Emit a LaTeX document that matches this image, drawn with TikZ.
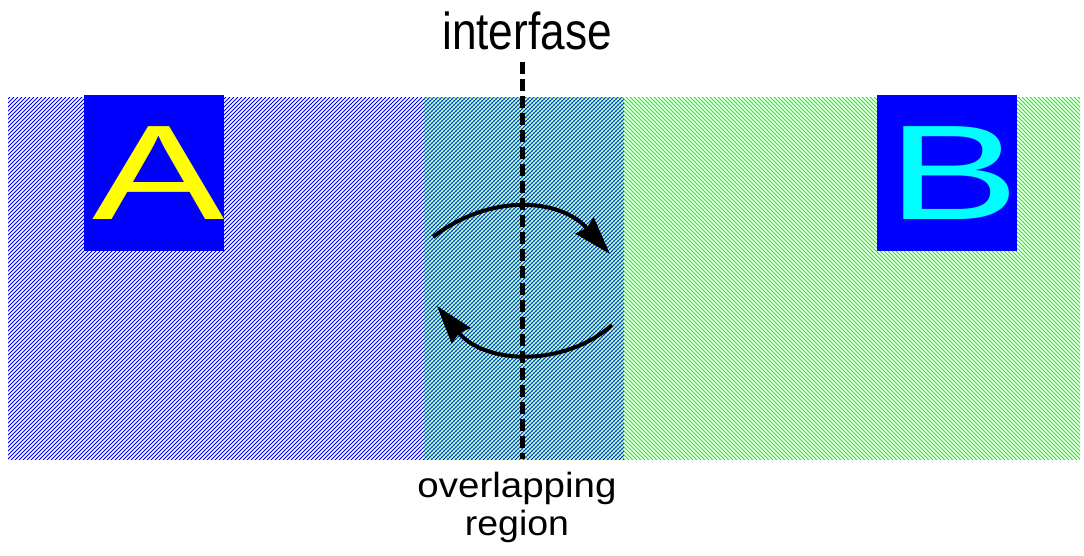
\documentclass[tikz,border=0pt]{standalone}
\usepackage{fontspec}
\setmainfont{Liberation Sans}
\usetikzlibrary{patterns.meta,arrows.meta}
\definecolor{hgreen}{RGB}{0,255,0}
\definecolor{hblue}{RGB}{0,0,255}
\definecolor{aqua}{RGB}{0,255,255}
\definecolor{yel}{RGB}{255,255,0}
\tikzset{
  hatchA/.style={pattern={Lines[angle=45,distance=2.8284pt,line width=0.85pt]},pattern color=hblue},
  hatchB/.style={pattern={Lines[angle=-45,distance=2.8284pt,line width=0.85pt]},pattern color=hgreen},
  letterbox/.style={fill=hblue,draw=none,minimum width=140pt,minimum height=156pt,inner sep=0pt},
  letter/.style={inner sep=0pt,font=\fontsize{135}{140}\selectfont},
  swap/.style={line width=4pt,-{Stealth[length=38pt,width=24pt,inset=3pt]}},
  label/.style={inner sep=0pt,align=center}
}
\begin{document}
\begin{tikzpicture}[x=1pt,y=1pt]
\useasboundingbox (0,0) rectangle (1084,555);
% hatched domains
\path[hatchA] (8,96) rectangle (624,457);
\path[hatchB] (424,96) rectangle (1080,457);
% boxes
\node[letterbox] (boxA) at (154,382) {};
\node[letterbox] (boxB) at (947,382) {};
\node[letter,text=yel] (letA) at ([xshift=5pt]boxA.center) {\scalebox{1.47}[1]{A}};
\node[letter,text=aqua] (letB) at ([xshift=7pt]boxB.center) {\scalebox{1.47}[1]{B}};
% interface
\node[label,anchor=base,font=\fontsize{52}{56}\selectfont] (iface) at (527,505) {\scalebox{0.85}[1]{interfase}};
\coordinate (dtop) at (522,493);
\coordinate (dbot) at (522,96);
\draw[line width=5pt,dash pattern=on 12pt off 5pt] (dtop) -- (dbot);
% overlapping region label
\node[label,anchor=base,font=\fontsize{35}{38}\selectfont] (ovl) at (517,20) {\scalebox{1.1}[1]{overlapping}\\\scalebox{1.07}[1]{region}};
% arrows
\coordinate (a1s) at (433,318);
\coordinate (a1e) at (610,301);
\coordinate (a2s) at (612,230);
\coordinate (a2e) at (437,249);
\draw[swap] (a1s) .. controls (490,362) and (560,357) .. (a1e);
\draw[swap] (a2s) .. controls (565,188) and (485,190) .. (a2e);
\end{tikzpicture}
\end{document}
